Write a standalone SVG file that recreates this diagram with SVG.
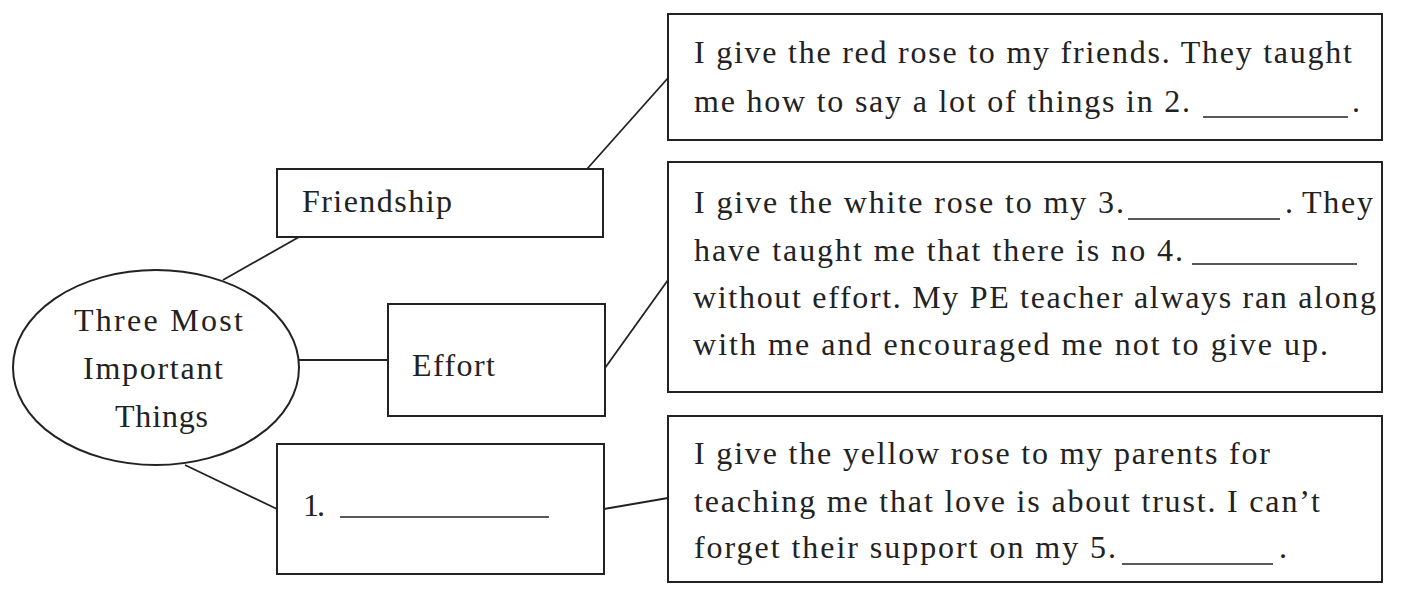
<svg xmlns="http://www.w3.org/2000/svg" width="1402" height="589" viewBox="0 0 1402 589">
<style>
  .box { fill: #ffffff; stroke: #222; stroke-width: 2; }
  .con line { stroke: #222; stroke-width: 1.8; }
  .t { font-family: "Liberation Serif", "Times New Roman", serif; font-size: 32px; fill: #222; }
  .u { stroke: #222; stroke-width: 1.5; }
</style>
<rect width="1402" height="589" fill="#ffffff"/>
<g id="connectors" class="con">
  <line x1="223" y1="280" x2="299" y2="237"/>
  <line x1="299" y1="360" x2="388" y2="360"/>
  <line x1="185" y1="465" x2="277" y2="509"/>
  <line x1="587" y1="169" x2="668" y2="78"/>
  <line x1="605" y1="368" x2="668" y2="280"/>
  <line x1="604" y1="509" x2="668" y2="498"/>
</g>
<g id="center">
  <ellipse class="box" cx="156" cy="367.5" rx="143" ry="97.5"/>
  <text class="t" x="74" y="331" textLength="169">Three Most</text>
  <text class="t" x="83" y="379" textLength="140">Important</text>
  <text class="t" x="115" y="427" textLength="93">Things</text>
</g>
<g id="friendship">
  <rect class="box" x="277" y="169" width="326" height="68"/>
  <text class="t" x="302" y="212" textLength="150">Friendship</text>
</g>
<g id="effort">
  <rect class="box" x="388" y="304" width="217" height="112"/>
  <text class="t" x="412" y="376" textLength="83">Effort</text>
</g>
<g id="blank1">
  <rect class="box" x="277" y="444" width="327" height="130"/>
  <text class="t" x="303" y="516" textLength="22">1.</text>
  <line class="u" x1="340" y1="517" x2="549" y2="517"/>
</g>
<g id="red-rose">
  <rect class="box" x="668" y="14" width="714" height="126"/>
  <text class="t" x="694" y="63" textLength="658">I give  the red rose to my friends.  They taught</text>
  <text class="t" x="694" y="112" textLength="496">me how to say  a lot of things in 2.</text>
  <line class="u" x1="1203" y1="117" x2="1348" y2="117"/>
  <text class="t" x="1352" y="112">.</text>
</g>
<g id="white-rose">
  <rect class="box" x="668" y="162" width="714" height="230"/>
  <text class="t" x="694" y="213" textLength="430">I give the white rose to my 3.</text>
  <line class="u" x1="1128" y1="219" x2="1280" y2="219"/>
  <text class="t" x="1285" y="213">.</text>
  <text class="t" x="1302" y="213" textLength="71">They</text>
  <text class="t" x="694" y="261" textLength="489">have  taught me that there is no 4.</text>
  <line class="u" x1="1192" y1="264" x2="1357" y2="264"/>
  <text class="t" x="693" y="308" textLength="683">without effort. My PE teacher always ran along</text>
  <text class="t" x="693" y="355" textLength="635">with me and encouraged  me not to give up.</text>
</g>
<g id="yellow-rose">
  <rect class="box" x="668" y="416" width="714" height="166"/>
  <text class="t" x="694" y="464" textLength="576">I give the yellow rose to my parents for</text>
  <text class="t" x="694" y="512" textLength="626">teaching me that love is about trust. I can’t</text>
  <text class="t" x="694" y="558" textLength="422">forget their support on my 5.</text>
  <line class="u" x1="1122" y1="564" x2="1273" y2="564"/>
  <text class="t" x="1279" y="558">.</text>
</g>
</svg>
